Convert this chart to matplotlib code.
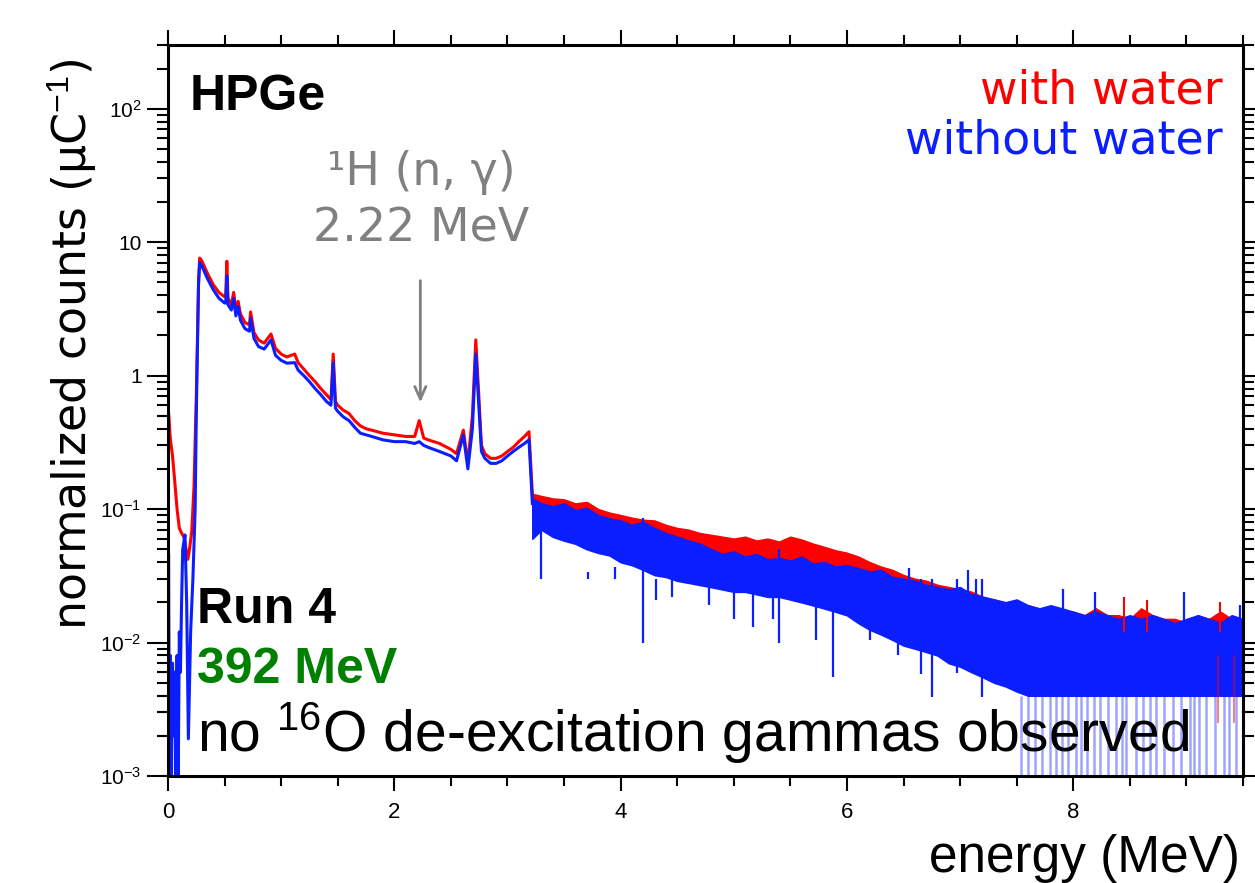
import matplotlib
matplotlib.use("Agg")
import matplotlib.pyplot as plt
from matplotlib.ticker import MultipleLocator, LogLocator, NullFormatter

plt.rcParams['mathtext.fontset'] = 'custom'
plt.rcParams['mathtext.rm'] = 'Liberation Sans'
plt.rcParams['mathtext.it'] = 'Liberation Sans:italic'
plt.rcParams['mathtext.bf'] = 'Liberation Sans:bold'

# ---- spectrum below the 3.2 MeV edge ----
red_E = [0.0, 0.005, 0.02, 0.04, 0.06, 0.08, 0.10, 0.12, 0.14, 0.16, 0.175, 0.19, 0.21, 0.23, 0.25,
         0.27, 0.28, 0.30, 0.35, 0.40, 0.45, 0.50, 0.51, 0.52, 0.53, 0.56, 0.58, 0.60, 0.62, 0.64,
         0.68, 0.72, 0.73, 0.76, 0.80, 0.85, 0.91, 0.95, 1.00, 1.05, 1.12, 1.15, 1.20, 1.25, 1.30,
         1.35, 1.40, 1.44, 1.46, 1.48, 1.50, 1.55, 1.60, 1.65, 1.70, 1.75, 1.80, 1.90, 2.00, 2.10,
         2.18, 2.22, 2.26, 2.30, 2.40, 2.50, 2.55, 2.61, 2.65, 2.69, 2.72, 2.74, 2.77, 2.80, 2.85,
         2.90, 2.95, 3.00, 3.05, 3.10, 3.15, 3.19, 3.22]
red_low = [0.05, 0.52, 0.34, 0.25, 0.16, 0.10, 0.072, 0.066, 0.062, 0.05, 0.042, 0.05, 0.068, 0.15, 0.7,
           5.0, 7.6, 7.2, 5.8, 4.8, 4.2, 3.9, 3.9, 7.2, 3.8, 3.4, 4.2, 3.1, 3.6, 2.9,
           2.5, 2.4, 3.0, 2.1, 1.85, 1.75, 2.05, 1.6, 1.45, 1.38, 1.45, 1.25, 1.12, 1.0, 0.9,
           0.8, 0.72, 0.66, 1.45, 0.64, 0.6, 0.55, 0.52, 0.46, 0.42, 0.4, 0.39, 0.37, 0.36, 0.35,
           0.35, 0.46, 0.34, 0.33, 0.31, 0.28, 0.26, 0.39, 0.22, 0.5, 1.85, 0.9, 0.3, 0.26, 0.24,
           0.24, 0.25, 0.27, 0.29, 0.32, 0.35, 0.38, 0.13]

blue_E = [0.0, 0.005, 0.01, 0.02, 0.03, 0.04, 0.05, 0.06, 0.07, 0.08, 0.09, 0.10, 0.11, 0.12, 0.13,
          0.15, 0.165, 0.18, 0.20, 0.22, 0.24, 0.25, 0.27, 0.28, 0.30, 0.35, 0.40, 0.45, 0.50, 0.51,
          0.52, 0.53, 0.56, 0.58, 0.60, 0.62, 0.64, 0.68, 0.72, 0.73, 0.76, 0.80, 0.85, 0.91, 0.95,
          1.00, 1.05, 1.12, 1.15, 1.20, 1.25, 1.30, 1.35, 1.40, 1.44, 1.46, 1.48, 1.50, 1.55, 1.60,
          1.65, 1.70, 1.75, 1.80, 1.90, 2.00, 2.10, 2.18, 2.22, 2.26, 2.30, 2.40, 2.50, 2.55, 2.61,
          2.65, 2.69, 2.72, 2.74, 2.77, 2.80, 2.85, 2.90, 2.95, 3.00, 3.05, 3.10, 3.15, 3.19, 3.22]
blue_low = [0.0008, 0.046, 0.004, 0.008, 0.0008, 0.007, 0.002, 0.006, 0.0008, 0.008, 0.0008, 0.012, 0.006, 0.02, 0.05,
            0.064, 0.02, 0.0019, 0.012, 0.03, 0.1, 0.5, 5.0, 7.0, 6.6, 5.3, 4.4, 3.8, 3.5, 3.5,
            5.6, 3.4, 3.1, 3.8, 2.8, 3.3, 2.6, 2.25, 2.15, 2.7, 1.9, 1.65, 1.58, 1.85, 1.42,
            1.3, 1.24, 1.25, 1.1, 1.0, 0.9, 0.8, 0.72, 0.64, 0.6, 1.25, 0.57, 0.54, 0.49, 0.46,
            0.41, 0.37, 0.36, 0.35, 0.33, 0.32, 0.32, 0.31, 0.32, 0.3, 0.29, 0.27, 0.25, 0.23, 0.36,
            0.2, 0.4, 1.45, 0.75, 0.27, 0.24, 0.22, 0.22, 0.23, 0.25, 0.27, 0.29, 0.31, 0.33, 0.11]

# ---- noisy tail above the edge: upper / lower envelope of each trace ----
tail_E = [3.22, 3.3, 3.4, 3.5, 3.6, 3.7, 3.8, 3.9, 4.0, 4.1, 4.2, 4.3, 4.4, 4.5, 4.6, 4.7,
          4.8, 4.9, 5.0, 5.1, 5.2, 5.3, 5.4, 5.5, 5.6, 5.7, 5.8, 5.9, 6.0, 6.1, 6.2, 6.3,
          6.4, 6.5, 6.6, 6.7, 6.8, 6.9, 7.0, 7.1, 7.2, 7.3, 7.4, 7.5, 7.6, 7.7, 7.8, 7.9,
          8.0, 8.1, 8.2, 8.3, 8.4, 8.5, 8.6, 8.7, 8.8, 8.9, 9.0, 9.1, 9.2, 9.3, 9.4, 9.5]
red_hi = [0.13, 0.125, 0.12, 0.118, 0.11, 0.113, 0.1, 0.094, 0.09, 0.086, 0.083, 0.082, 0.076, 0.072, 0.07, 0.066,
          0.064, 0.062, 0.06, 0.062, 0.058, 0.06, 0.057, 0.062, 0.059, 0.055, 0.052, 0.049, 0.047, 0.044, 0.04, 0.037,
          0.035, 0.032, 0.03, 0.029, 0.027, 0.026, 0.025, 0.024, 0.022, 0.021, 0.02, 0.02, 0.019, 0.018, 0.018, 0.017,
          0.017, 0.016, 0.018, 0.016, 0.016, 0.015, 0.018, 0.016, 0.015, 0.015, 0.014, 0.016, 0.015, 0.017, 0.015, 0.015]
red_lo = [0.08, 0.08, 0.075, 0.07, 0.065, 0.06, 0.056, 0.052, 0.048, 0.045, 0.042, 0.04, 0.038, 0.036, 0.034, 0.033,
          0.032, 0.031, 0.03, 0.029, 0.028, 0.027, 0.027, 0.026, 0.025, 0.024, 0.023, 0.022, 0.02, 0.018, 0.016, 0.015,
          0.014, 0.013, 0.012, 0.011, 0.0105, 0.01, 0.0095, 0.009, 0.0085, 0.008, 0.008, 0.0075, 0.0075, 0.007, 0.007, 0.007,
          0.007, 0.007, 0.007, 0.007, 0.007, 0.007, 0.007, 0.007, 0.007, 0.007, 0.007, 0.007, 0.007, 0.007, 0.007, 0.007]
blue_hi = [0.12, 0.11, 0.105, 0.11, 0.098, 0.102, 0.09, 0.085, 0.082, 0.076, 0.08, 0.072, 0.066, 0.062, 0.058, 0.055,
           0.05, 0.046, 0.048, 0.044, 0.046, 0.042, 0.043, 0.041, 0.044, 0.039, 0.04, 0.037, 0.038, 0.036, 0.034, 0.035,
           0.031, 0.03, 0.029, 0.027, 0.026, 0.025, 0.026, 0.023, 0.022, 0.021, 0.02, 0.021, 0.019, 0.018, 0.019, 0.018,
           0.017, 0.016, 0.017, 0.016, 0.015, 0.016, 0.015, 0.016, 0.015, 0.014, 0.015, 0.016, 0.015, 0.014, 0.016, 0.015]
blue_lo = [0.06, 0.07, 0.062, 0.058, 0.055, 0.05, 0.047, 0.045, 0.04, 0.038, 0.035, 0.032, 0.031, 0.029, 0.028, 0.027,
           0.026, 0.025, 0.024, 0.024, 0.023, 0.022, 0.022, 0.021, 0.02, 0.019, 0.018, 0.017, 0.016, 0.014, 0.0125, 0.0115,
           0.0105, 0.0095, 0.009, 0.0085, 0.008, 0.007, 0.0066, 0.006, 0.0055, 0.005, 0.0047, 0.0043, 0.004, 0.004, 0.004, 0.004,
           0.004, 0.004, 0.004, 0.004, 0.004, 0.004, 0.004, 0.004, 0.004, 0.004, 0.004, 0.004, 0.004, 0.004, 0.004, 0.004]

# single channels sticking out of the blue band
dip_E = [3.3, 3.71, 3.95, 4.31, 4.45, 4.78, 5.0, 5.17, 5.35, 5.73, 5.88, 6.2, 6.45, 6.65, 6.75, 6.97, 7.19]
dip_val = [0.07, 0.034, 0.037, 0.021, 0.022, 0.019, 0.015, 0.013, 0.015, 0.0105, 0.0055, 0.0105, 0.008,
           0.0058, 0.0039, 0.0059, 0.0039]
spike_E = [4.2, 5.4, 6.55, 7.07, 7.14, 7.91, 8.19, 8.98, 9.47]
spike_val = [0.085, 0.05, 0.036, 0.035, 0.03, 0.025, 0.024, 0.024, 0.019]
red_spike_E = [8.45, 8.65, 9.3]
red_spike_val = [0.022, 0.021, 0.02]
# empty blue channels (drop to the bottom of the axis)
empty_E = [7.54, 7.6, 7.66, 7.72, 7.79, 7.85, 7.9, 7.95, 8.02, 8.07, 8.12, 8.18, 8.24, 8.31, 8.38,
           8.43, 8.47, 8.55, 8.62, 8.68, 8.73, 8.80, 8.88, 8.95, 9.03, 9.07, 9.11, 9.17, 9.25,
           9.33, 9.38, 9.44]
red_empty_E = [9.28, 9.42]

y_ticks = [1e-3, 1e-2, 1e-1, 1, 10, 100]
y_ticklabels = ['10$^{-3}$', '10$^{-2}$', '10$^{-1}$', '1', '10', '10$^{2}$']
x_ticks = [0, 2, 4, 6, 8]

RED = '#ff0000'
BLUE = '#0a1eff'
GRAY = '#808080'

W, H = 1255, 883
fig = plt.figure(figsize=(W / 100, H / 100), dpi=100)
ax = fig.add_axes([168 / W, 1 - 776 / H, (1243 - 168) / W, (776 - 45) / H])

# red (with water) first, blue drawn over it
ax.fill_between(tail_E, red_lo, red_hi, color=RED, lw=1.2)
ax.vlines(red_spike_E, 0.012, red_spike_val, color=RED, lw=1.5)
ax.plot(red_E, red_low, color=RED, lw=2.2)
ax.vlines(red_empty_E, 0.0025, 0.008, color=RED, lw=1.2, alpha=0.6)

ax.fill_between(tail_E, blue_lo, blue_hi, color=BLUE, lw=1.2)
ax.plot(blue_E, blue_low, color=BLUE, lw=2.2)
ax.vlines(dip_E, dip_val, 0.03, color=BLUE, lw=1.6)
ax.vlines(spike_E, 0.01, spike_val, color=BLUE, lw=1.6)
ax.vlines(empty_E, 0.0009, 0.004, color=BLUE, lw=1.8, alpha=0.4)

ax.set_yscale('log')
ax.set_xlim(0, 9.5)
ax.set_ylim(1e-3, 300)

ax.set_xticks(x_ticks)
ax.set_xticklabels([str(t) for t in x_ticks], fontfamily='Liberation Sans', fontsize=16)
ax.xaxis.set_minor_locator(MultipleLocator(0.5))
ax.set_yticks(y_ticks)
ax.set_yticklabels(y_ticklabels, fontfamily='Liberation Sans', fontsize=15)
ax.yaxis.set_minor_locator(LogLocator(base=10, subs=range(2, 10), numticks=20))
ax.yaxis.set_minor_formatter(NullFormatter())

ax.tick_params(axis='both', which='both', direction='out', top=True, right=True, width=1.5)
ax.tick_params(axis='y', which='major', length=15, pad=4)
ax.tick_params(axis='y', which='minor', length=8)
ax.tick_params(axis='x', which='major', length=11, pad=8)
ax.tick_params(axis='x', which='minor', length=7)
for s in ax.spines.values():
    s.set_linewidth(2.2)

# annotation arrow at the 2.22 MeV line
ax.annotate('', xy=(2.23, 0.6), xytext=(2.23, 5.4),
            arrowprops=dict(arrowstyle='->,head_length=0.9,head_width=0.4', color=GRAY, lw=2))


def px(x, y):
    return x / W, 1 - y / H


fig.text(*px(190, 110), 'HPGe', fontfamily='Liberation Sans', fontweight='bold', fontsize=36)
fig.text(*px(1223, 103), 'with water', color=RED, fontsize=33, ha='right')
fig.text(*px(1223, 153), 'without water', color=BLUE, fontsize=33, ha='right')
fig.text(*px(421, 185), '¹H (n, γ)', color=GRAY, fontsize=33, ha='center')
fig.text(*px(421, 242), '2.22 MeV', color=GRAY, fontsize=33, ha='center')
fig.text(*px(197, 623), 'Run 4', fontfamily='Liberation Sans', fontweight='bold', fontsize=36)
fig.text(*px(197, 683), '392 MeV', color='#008000', fontfamily='Liberation Sans',
         fontweight='bold', fontsize=36)
fig.text(*px(197, 752), 'no $^{16}$O de-excitation gammas observed',
         fontfamily='Liberation Sans', fontsize=41)
fig.text(*px(1240, 872), 'energy (MeV)', fontfamily='Liberation Sans', fontsize=37, ha='right')
fig.text(*px(72, 344), 'normalized counts (μC$^{-1}$)', fontsize=33, rotation=90,
         ha='center', va='center')

fig.savefig('out.png', dpi=100)
